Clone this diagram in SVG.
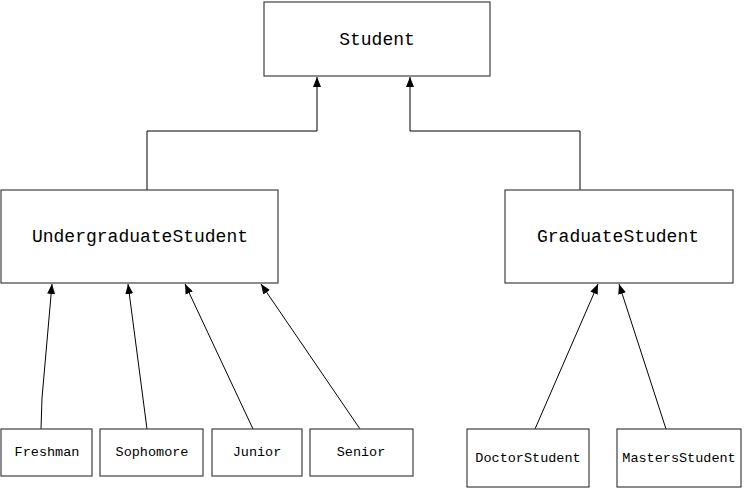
<svg xmlns="http://www.w3.org/2000/svg" width="744" height="489" viewBox="0 0 744 489">
<style>
.box{fill:#fff;stroke:#404040;stroke-width:1.2}
.big{font-family:"Liberation Mono","DejaVu Sans Mono",monospace;font-size:18px;fill:#000;text-anchor:middle;dominant-baseline:central}
.sm{font-family:"Liberation Mono","DejaVu Sans Mono",monospace;font-size:13.5px;fill:#000;text-anchor:middle;dominant-baseline:central}
.ln{fill:none;stroke:#000;stroke-width:1}
</style>
<defs>
<marker id="ah" viewBox="0 0 10 8" refX="10" refY="4" markerWidth="10" markerHeight="8" markerUnits="userSpaceOnUse" orient="auto">
<path d="M0,0 L10,4 L0,8 Z" fill="#000"/>
</marker>
</defs>
<rect width="744" height="489" fill="#fff"/>
<g id="connectors">
<polyline class="ln" points="147,190 147,131 317,131 317,77" marker-end="url(#ah)"/>
<polyline class="ln" points="580,190 580,131 410,131 410,77" marker-end="url(#ah)"/>
<polyline class="ln" points="41,429 42,398 52,284" marker-end="url(#ah)"/>
<line class="ln" x1="147" y1="429" x2="128" y2="284" marker-end="url(#ah)"/>
<line class="ln" x1="253" y1="429" x2="185" y2="284" marker-end="url(#ah)"/>
<line class="ln" x1="360" y1="429" x2="261" y2="284" marker-end="url(#ah)"/>
<line class="ln" x1="535" y1="429" x2="598" y2="284" marker-end="url(#ah)"/>
<line class="ln" x1="666" y1="429" x2="619" y2="284" marker-end="url(#ah)"/>
</g>
<g id="student"><rect class="box" x="264" y="2" width="226" height="74"/><text class="big" x="377" y="40">Student</text></g>
<g id="undergraduate"><rect class="box" x="1" y="190" width="277" height="93"/><text class="big" x="140" y="237">UndergraduateStudent</text></g>
<g id="graduate"><rect class="box" x="505" y="190" width="228" height="93"/><text class="big" x="618" y="237">GraduateStudent</text></g>
<g id="freshman"><rect class="box" x="1" y="429" width="91" height="47"/><text class="sm" x="47" y="452">Freshman</text></g>
<g id="sophomore"><rect class="box" x="100" y="429" width="103" height="47"/><text class="sm" x="152" y="452">Sophomore</text></g>
<g id="junior"><rect class="box" x="212" y="429" width="90" height="47"/><text class="sm" x="257" y="452">Junior</text></g>
<g id="senior"><rect class="box" x="310" y="429" width="103" height="47"/><text class="sm" x="361" y="452">Senior</text></g>
<g id="doctor"><rect class="box" x="467" y="429" width="122" height="58"/><text class="sm" x="528" y="458">DoctorStudent</text></g>
<g id="masters"><rect class="box" x="617" y="429" width="124" height="58"/><text class="sm" x="679" y="458">MastersStudent</text></g>
</svg>
